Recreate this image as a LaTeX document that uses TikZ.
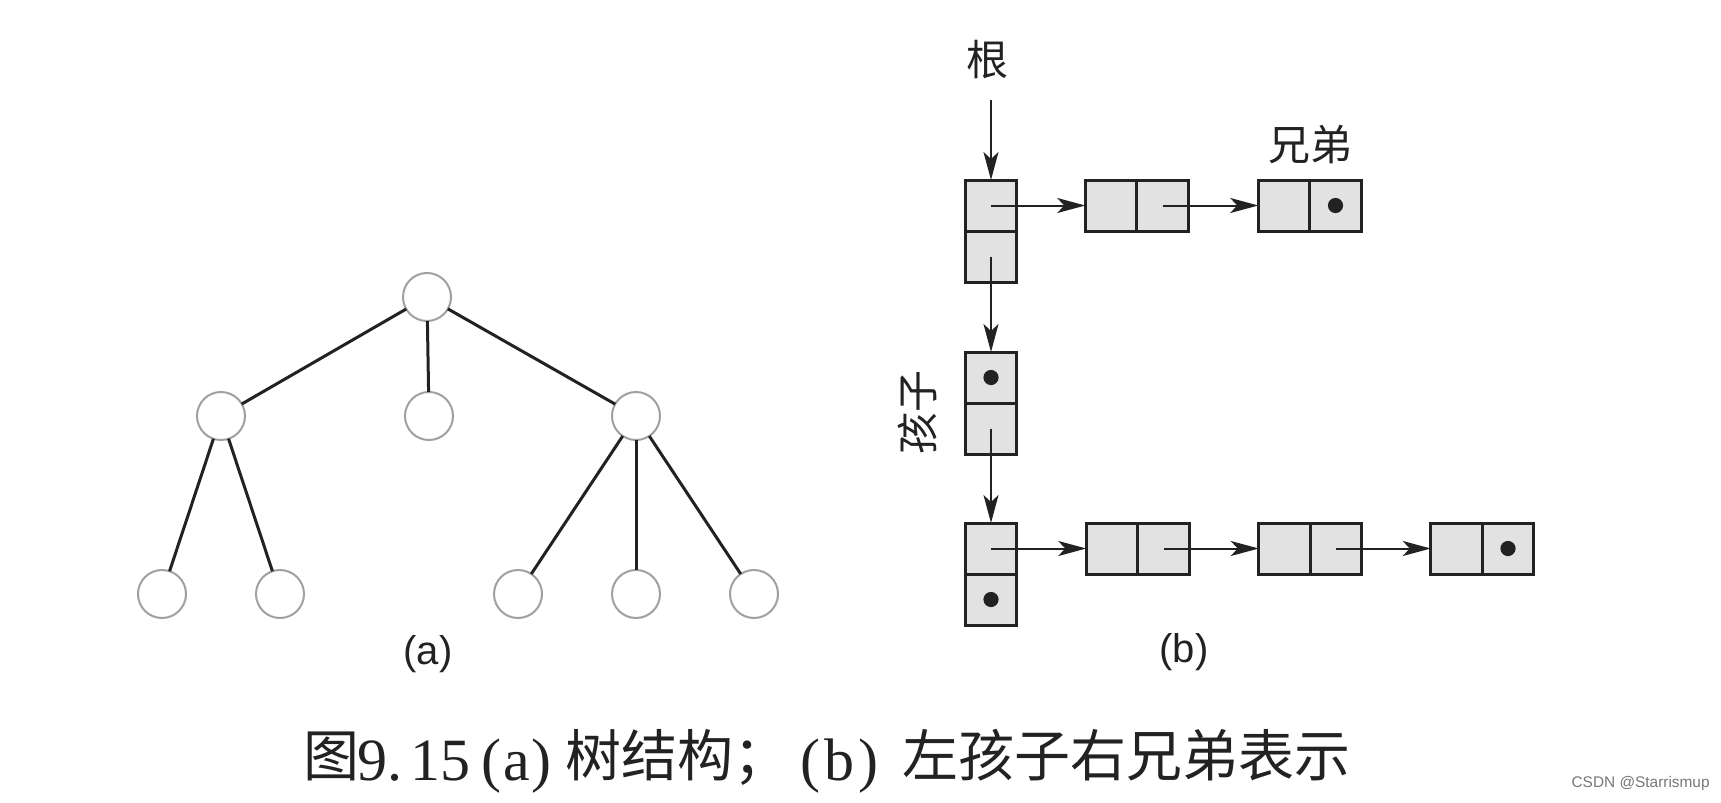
\documentclass[tikz,border=0pt]{standalone}
\usepackage{fontspec}
\setmainfont{Liberation Serif}
\newfontfamily\cjkfont{Noto Sans CJK SC}
\newfontfamily\arialfont{Liberation Sans}
\usetikzlibrary{arrows.meta}
\definecolor{ink}{HTML}{222222}
\definecolor{cellfill}{HTML}{E2E2E2}
\definecolor{ringgray}{HTML}{A0A0A0}
\definecolor{wmgray}{HTML}{777777}
\begin{document}
\begin{tikzpicture}[x=0.5pt,y=-0.5pt,
 treenode/.style={circle,draw=ringgray,line width=1pt,fill=white,minimum size=24pt,inner sep=0pt,outer sep=0pt},
 edge/.style={draw=ink,line width=1.5pt},
 cell/.style={draw=ink,fill=cellfill,line width=1.5pt,minimum width=25.75pt,minimum height=25.5pt,inner sep=0pt,outer sep=0pt},
 arr/.style={draw=ink,line width=1pt,-{Stealth[length=14pt,width=7.5pt,inset=3.5pt]}},
 dotfill/.style={fill=ink},
 cjklabel/.style={font=\cjkfont\fontsize{21pt}{21pt}\selectfont,text=ink,inner sep=0pt},
 sublabel/.style={font=\arialfont\fontsize{20pt}{20pt}\selectfont,text=ink,inner sep=0pt},
 capcjk/.style={font=\cjkfont\fontsize{28pt}{28pt}\selectfont,text=ink,inner sep=0pt,anchor=base west},
 caplat/.style={font=\fontsize{30pt}{30pt}\selectfont,text=ink,inner sep=0pt,anchor=base west},
]
\fill[white] (0,0) rectangle (1721,803);
\useasboundingbox (0,0) rectangle (1721,803);

% ---------- (a) tree ----------
\node[treenode] (t0) at (427,297) {};
\node[treenode] (t1) at (221,416) {};
\node[treenode] (t2) at (429,416) {};
\node[treenode] (t3) at (636,416) {};
\node[treenode] (t4) at (162,594) {};
\node[treenode] (t5) at (280,594) {};
\node[treenode] (t6) at (518,594) {};
\node[treenode] (t7) at (636,594) {};
\node[treenode] (t8) at (754,594) {};
\draw[edge] (t0) -- (t1);
\draw[edge] (t0) -- (t2);
\draw[edge] (t0) -- (t3);
\draw[edge] (t1) -- (t4);
\draw[edge] (t1) -- (t5);
\draw[edge] (t3) -- (t6);
\draw[edge] (t3) -- (t7);
\draw[edge] (t3) -- (t8);
\node[sublabel] (la) at (428,654) {(a)};

% ---------- (b) left-child right-sibling ----------
\node[cell] (Rt) at (991,205.5) {};
\node[cell] (Rb) at (991,256.5) {};
\node[cell] (T2a) at (1111,205.5) {};
\node[cell] (T2b) at (1162.5,205.5) {};
\node[cell] (T3a) at (1284,205.5) {};
\node[cell] (T3b) at (1335.5,205.5) {};
\node[cell] (C1t) at (991,377.5) {};
\node[cell] (C1b) at (991,428.5) {};
\node[cell] (B1t) at (991,548.5) {};
\node[cell] (B1b) at (991,599.5) {};
\node[cell] (B2a) at (1112,548.5) {};
\node[cell] (B2b) at (1163.5,548.5) {};
\node[cell] (B3a) at (1284.5,548.5) {};
\node[cell] (B3b) at (1336,548.5) {};
\node[cell] (B4a) at (1456.5,548.5) {};
\node[cell] (B4b) at (1508,548.5) {};

\fill[dotfill] (T3b.center) circle[radius=3.8pt];
\fill[dotfill] (C1t.center) circle[radius=3.8pt];
\fill[dotfill] (B1b.center) circle[radius=3.8pt];
\fill[dotfill] (B4b.center) circle[radius=3.8pt];

\node[cjklabel] (gen) at (987,60) {根};
\node[cjklabel] (xiongdi) at (1310,145) {兄弟};
\node[cjklabel,rotate=90] (haizi) at (917,412) {孩子};
\coordinate (rootin) at (991,100);

\draw[arr] (rootin) -- (Rt.north);
\draw[arr] (Rt.center) -- (T2a.west);
\draw[arr] (T2b.center) -- (T3a.west);
\draw[arr] (Rb.center) -- (C1t.north);
\draw[arr] (C1b.center) -- (B1t.north);
\draw[arr] (B1t.center) -- (B2a.west);
\draw[arr] (B2b.center) -- (B3a.west);
\draw[arr] (B3b.center) -- (B4a.west);

\node[sublabel] (lb) at (1184,652) {(b)};

% ---------- caption ----------
\node[capcjk] (c1) at (303,776) {图};
\node[caplat] (c2) at (357,780) {9.\kern4pt 15};
\node[caplat] (c3) at (481,780) {(\kern1pt a\kern1pt)};
\node[capcjk] (c4) at (565,776) {树结构；};
\node[caplat] (c8) at (800,780) {(\kern2pt b\kern2pt)};
\node[capcjk] (c9) at (902,776) {左孩子右兄弟表示};

\node[font=\arialfont\fontsize{7.7pt}{7.7pt}\selectfont,text=wmgray,anchor=east,inner sep=0pt] (wm) at (1710,784) {CSDN @Starrismup};
\end{tikzpicture}
\end{document}
